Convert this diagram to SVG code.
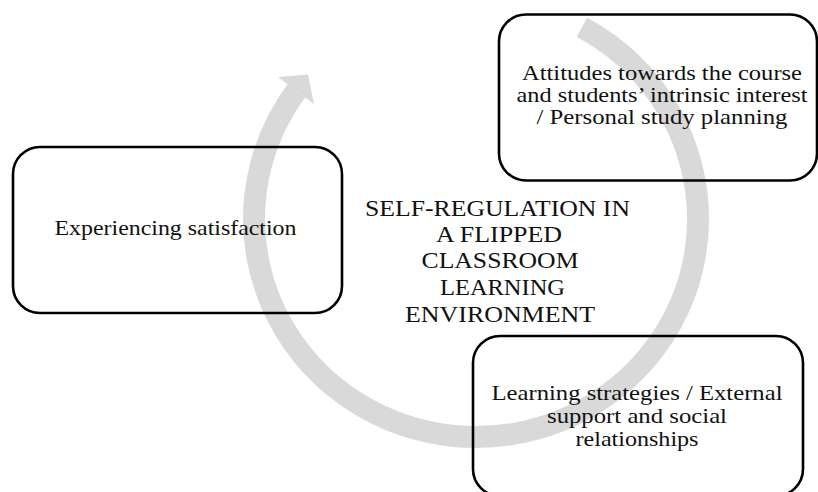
<svg xmlns="http://www.w3.org/2000/svg" width="818" height="492" viewBox="0 0 818 492">
<style>
.box{fill:none;stroke:#000;stroke-width:2.6}
.t{font-family:"Liberation Serif","Times New Roman",serif;font-size:21px;fill:#111;text-anchor:middle}
.title{font-family:"Liberation Serif","Times New Roman",serif;font-size:24px;fill:#111;text-anchor:middle}
.band{fill:none;stroke:#d9d9d9;stroke-width:22;stroke-linecap:butt}
</style>
<rect width="818" height="492" fill="#fff"/>
<g id="connectors">
<path class="band" d="M 581.9 27.4 A 222 218 0 1 1 296.4 90.9"/>
<polygon points="278,77 308,74.5 314,104" fill="#d9d9d9"/>
</g>
<g id="node-attitudes">
<rect class="box" x="499" y="14.5" width="318" height="166" rx="27"/>
<text class="t" x="662" y="80" textLength="280" lengthAdjust="spacingAndGlyphs">Attitudes towards the course</text>
<text class="t" x="662" y="102" textLength="291" lengthAdjust="spacingAndGlyphs">and students’ intrinsic interest</text>
<text class="t" x="662" y="124" textLength="251" lengthAdjust="spacingAndGlyphs">/ Personal study planning</text>
</g>
<g id="node-satisfaction">
<rect class="box" x="13" y="147" width="329" height="166" rx="27"/>
<text class="t" x="175.5" y="235" textLength="242" lengthAdjust="spacingAndGlyphs">Experiencing satisfaction</text>
</g>
<g id="node-strategies">
<rect class="box" x="473" y="336" width="330" height="160" rx="27"/>
<text class="t" x="637" y="400" textLength="291" lengthAdjust="spacingAndGlyphs">Learning strategies / External</text>
<text class="t" x="637" y="423" textLength="180" lengthAdjust="spacingAndGlyphs">support and social</text>
<text class="t" x="637" y="446" textLength="123" lengthAdjust="spacingAndGlyphs">relationships</text>
</g>
<g id="node-title">
<text class="title" x="497.5" y="216" textLength="265" lengthAdjust="spacingAndGlyphs">SELF-REGULATION IN</text>
<text class="title" x="499" y="241.5" textLength="126" lengthAdjust="spacingAndGlyphs">A FLIPPED</text>
<text class="title" x="500" y="268" textLength="157" lengthAdjust="spacingAndGlyphs">CLASSROOM</text>
<text class="title" x="502.5" y="295" textLength="125" lengthAdjust="spacingAndGlyphs">LEARNING</text>
<text class="title" x="500" y="322" textLength="190" lengthAdjust="spacingAndGlyphs">ENVIRONMENT</text>
</g>
</svg>
